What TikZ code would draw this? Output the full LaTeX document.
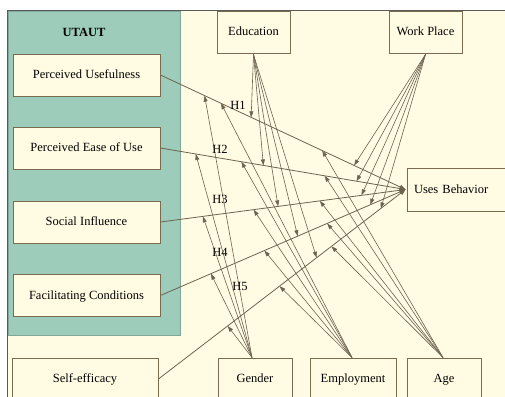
\documentclass[tikz,border=0pt]{standalone}
\usepackage{fontspec}
\setmainfont{Liberation Serif}
\usetikzlibrary{calc,arrows.meta}
\definecolor{cream}{HTML}{FFFCE3}
\definecolor{panel}{HTML}{9DCCBB}
\definecolor{panelline}{HTML}{7FA89A}
\definecolor{boxline}{HTML}{7A6B50}
\definecolor{linkc}{HTML}{6E6250}
\definecolor{frame}{HTML}{5A5A5A}
\tikzset{
  box/.style={draw=boxline,line width=0.9pt,fill=cream,minimum height=42pt,inner sep=0pt,text height=8pt,text depth=1pt,font=\fontsize{12.5}{14}\selectfont},
  hyp/.style={draw=linkc,line width=0.8pt,-{Triangle[length=6pt,width=4.5pt]}},
  mod/.style={draw=linkc,line width=0.6pt,-{Triangle[length=6pt,width=4pt]}},
  lab/.style={font=\fontsize{12.5}{14}\selectfont,inner sep=1pt}
}
\begin{document}
\begin{tikzpicture}[x=1pt,y=-1pt]
\useasboundingbox (0,0) rectangle (505,396);
\begin{scope}
\clip (0,0) rectangle (505,396);
\fill[white] (0,0) rectangle (505,396);
\draw[frame,fill=cream,line width=1.2pt] (7.5,10.5) rectangle (530,420);
\draw[panelline,fill=panel,line width=0.6pt] (8,11) rectangle (180,335);
\node[font=\bfseries\fontsize{12.5}{14}\selectfont] (utaut) at (84,32) {UTAUT};
\node[box,minimum width=147pt] (pu) at (86.5,75) {Perceived Usefulness};
\node[box,minimum width=147pt] (peu) at (86.5,148) {Perceived Ease of Use};
\node[box,minimum width=147pt] (si) at (86.5,222) {Social Influence};
\node[box,minimum width=147pt] (fc) at (86.5,295.5) {Facilitating Conditions};
\node[box,minimum width=146pt] (se) at (85,379) {Self-efficacy};
\node[box,minimum width=73pt] (edu) at (253.5,32) {Education};
\node[box,minimum width=73pt] (wp) at (425.5,32) {Work Place};
\node[box,minimum width=102pt,minimum height=43pt,text width=88pt,align=left] (ub) at (458,189.5) {Uses Behavior};
\node[box,minimum width=74pt] (gen) at (255,379) {Gender};
\node[box,minimum width=86pt] (emp) at (353,379) {Employment};
\node[box,minimum width=74pt] (age) at (444,379) {Age};

\coordinate (U) at ($(ub.west)+(-1,0)$);
% hypothesis lines
\foreach \s [count=\i] in {pu,peu,si,fc,se} {
  \coordinate (s\i) at (\s.east);
  \draw[hyp] (s\i) -- (U);
}
\coordinate (es) at ($(edu.south)+(0,1)$);
\coordinate (ws) at ($(wp.south)+(0,1)$);
\coordinate (gn) at ($(gen.north)+(-3,0)$);
\coordinate (en) at ($(emp.north)+(-1,0)$);
\coordinate (an) at ($(age.north)+(-1,0)$);
% moderators
\foreach \i/\t in {1/0.37,2/0.42,3/0.48,4/0.56,5/0.64}
  \draw[mod] (es) -- ($(s\i)!\t!(U)$);
\foreach \i/\t in {1/0.79,2/0.80,3/0.82,4/0.856,5/0.90}
  \draw[mod] (ws) -- ($(s\i)!\t!(U)$);
\foreach \i/\t in {1/0.18,2/0.144,3/0.173,4/0.206,5/0.28}
  \draw[mod] (gn) -- ($(s\i)!\t!(U)$);
\foreach \i/\t in {1/0.247,2/0.33,3/0.38,4/0.424,5/0.49}
  \draw[mod] (en) -- ($(s\i)!\t!(U)$);
\foreach \i/\t in {1/0.66,2/0.67,3/0.65,4/0.68,5/0.70}
  \draw[mod] (an) -- ($(s\i)!\t!(U)$);

\node[lab] (h1) at (238,105) {H1};
\node[lab] (h2) at (220,149) {H2};
\node[lab] (h3) at (220,199) {H3};
\node[lab] (h4) at (220,252) {H4};
\node[lab] (h5) at (240,286) {H5};
\end{scope}
\end{tikzpicture}
\end{document}
